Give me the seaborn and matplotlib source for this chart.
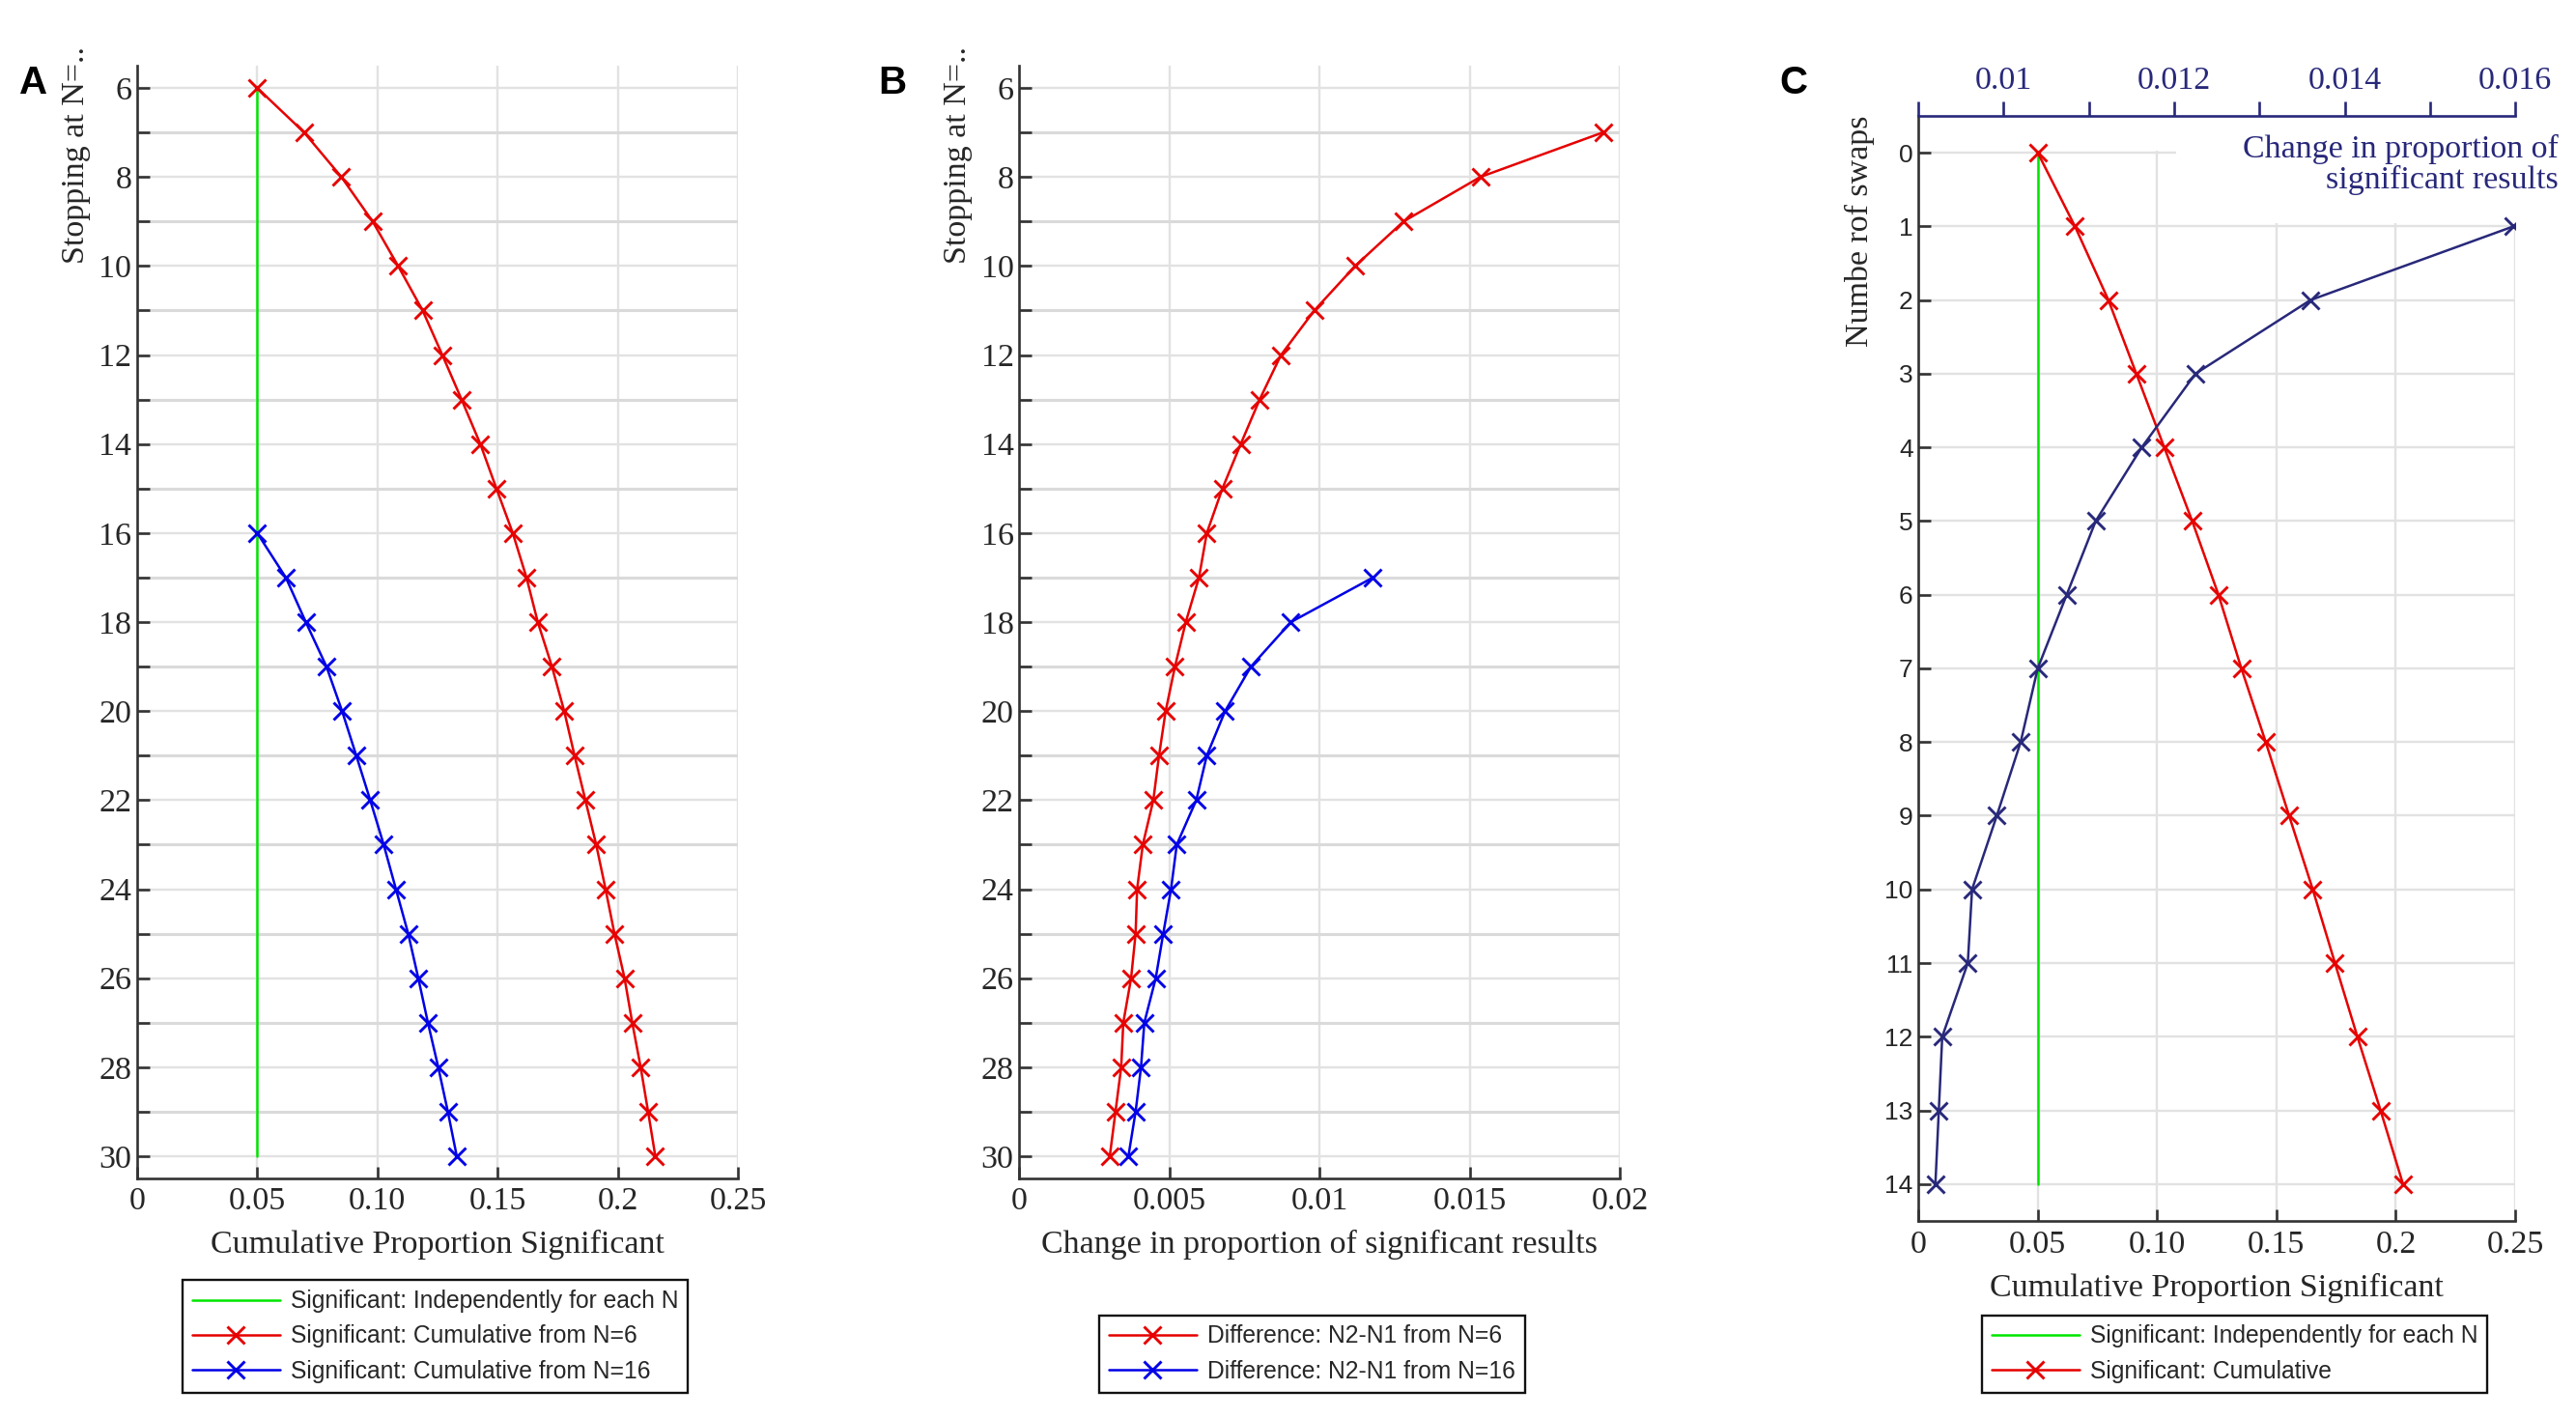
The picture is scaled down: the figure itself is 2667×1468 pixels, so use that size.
import pandas as pd
import seaborn as sns
import matplotlib.pyplot as plt
from matplotlib.ticker import MultipleLocator, FixedLocator
from matplotlib.patches import Rectangle

# ---- data ----
# panel A
stop_n6 = list(range(6, 31))
sig_indep_a = [0.05, 0.05, 0.05, 0.05, 0.05, 0.05, 0.05, 0.05, 0.05, 0.05, 0.05, 0.05, 0.05,
               0.05, 0.05, 0.05, 0.05, 0.05, 0.05, 0.05, 0.05, 0.05, 0.05, 0.05, 0.05]
sig_cum6 = [0.050, 0.0695, 0.085, 0.098, 0.1086, 0.1188, 0.127, 0.135, 0.1428, 0.1495, 0.1563,
            0.162, 0.1667, 0.1726, 0.1777, 0.182, 0.1865, 0.191, 0.1949, 0.1986, 0.2028, 0.206,
            0.2095, 0.2126, 0.2156]
stop_n16 = list(range(16, 31))
sig_cum16 = [0.050, 0.0619, 0.0702, 0.0788, 0.0853, 0.0912, 0.097, 0.1026, 0.1077, 0.1128,
             0.117, 0.121, 0.1253, 0.1293, 0.133]

# panel B
diff_n6 = list(range(7, 31))
diff6 = [0.01944, 0.01536, 0.0128, 0.01119, 0.00983, 0.00872, 0.00801, 0.00738, 0.00677,
         0.00625, 0.00599, 0.00555, 0.00519, 0.00488, 0.00466, 0.00447, 0.00412, 0.00393,
         0.00388, 0.00373, 0.00347, 0.0034, 0.00321, 0.00302]
diff_n16 = list(range(17, 31))
diff16 = [0.01178, 0.00905, 0.00772, 0.00686, 0.00625, 0.0059, 0.00525, 0.00506, 0.0048,
          0.00455, 0.00417, 0.00406, 0.00388, 0.00364]

# panel C
swaps = list(range(0, 15))
sig_indep_c = [0.05, 0.05, 0.05, 0.05, 0.05, 0.05, 0.05, 0.05, 0.05, 0.05, 0.05, 0.05, 0.05,
               0.05, 0.05]
sig_cum_c = [0.05, 0.0656, 0.0796, 0.0913, 0.103, 0.1147, 0.1257, 0.1353, 0.1455, 0.1553,
             0.1652, 0.1745, 0.1839, 0.1936, 0.203]
swaps_diff = list(range(1, 15))
change_c = [0.01598, 0.0136, 0.01225, 0.01162, 0.01108, 0.01074, 0.0104, 0.0102, 0.00992,
            0.00963, 0.00958, 0.00928, 0.00924, 0.0092]

cum_ticks = [0, 0.05, 0.10, 0.15, 0.2, 0.25]
cum_labels = ['0', '0.05', '0.10', '0.15', '0.2', '0.25']
diff_ticks = [0, 0.005, 0.01, 0.015, 0.02]
diff_labels = ['0', '0.005', '0.01', '0.015', '0.02']
top_ticks = [0.010, 0.012, 0.014, 0.016]
top_labels = ['0.01', '0.012', '0.014', '0.016']
top_minor = [0.009, 0.011, 0.013, 0.015]

RED = '#e60000'
BLUE = '#0000e6'
GREEN = '#00e600'
NAVY = '#28287a'
AXC = '#333333'
GRID = '#e2e2e2'
FS = 24.5

sns.set_theme(style="ticks")
plt.rcParams['font.family'] = ['Liberation Serif', 'DejaVu Serif']
plt.rcParams['text.color'] = '#262626'
SANS = ['Liberation Sans', 'DejaVu Sans']

fig = plt.figure(figsize=(26.67, 14.68), dpi=100)
axA = fig.add_axes([0.0532, 0.1689, 0.2333, 0.7848])
axB = fig.add_axes([0.3956, 0.1689, 0.2332, 0.7848])
axC = fig.add_axes([0.7447, 0.1390, 0.2317, 0.7793])


def draw(ax, x, y, color, label, marker=True, z=2):
    kw = dict(marker='x', markersize=13, markeredgewidth=2.1, markeredgecolor=color) if marker else {}
    sns.lineplot(x=x, y=y, color=color, linewidth=1.8, sort=False, estimator=None,
                 orient='y', label=label, legend=False, ax=ax, zorder=z, **kw)
    return ax.lines[-1]


def style(ax, xlim, xt, xl, ylim, ystep):
    ax.set_xlim(*xlim)
    ax.set_ylim(*ylim)
    ax.xaxis.set_major_locator(FixedLocator(xt))
    ax.set_xticklabels(xl)
    ax.yaxis.set_major_locator(MultipleLocator(ystep))
    ax.yaxis.set_minor_locator(MultipleLocator(1))
    ax.set_axisbelow(True)
    ax.grid(True, which='major', axis='y', color=GRID, linewidth=1.7)
    ax.grid(True, which='minor', axis='y', color='#dadada', linewidth=2.2)
    ax.grid(True, which='major', axis='x', color=GRID, linewidth=1.7)
    for s in ['top', 'right']:
        ax.spines[s].set_visible(False)
    for s in ['left', 'bottom']:
        ax.spines[s].set_color(AXC)
        ax.spines[s].set_linewidth(1.9)
    ax.tick_params(axis='both', which='both', direction='in', length=9, width=1.9,
                   color=AXC, labelcolor='#262626', labelsize=FS)
    ax.tick_params(axis='x', pad=6)
    ax.tick_params(axis='y', pad=4)
    ax.set_xlabel(ax.get_xlabel(), fontsize=FS, labelpad=10)


# ---- panel A ----
gA = draw(axA, sig_indep_a, stop_n6, GREEN, 'Significant: Independently for each N', marker=False)
rA = draw(axA, sig_cum6, stop_n6, RED, 'Significant: Cumulative from N=6')
bA = draw(axA, sig_cum16, stop_n16, BLUE, 'Significant: Cumulative from N=16')
axA.set_xlabel('Cumulative Proportion Significant')
style(axA, (0, 0.25), cum_ticks, cum_labels, (30.5, 5.5), 2)
axA.set_ylabel('')
axA.text(-0.101, 1.017, 'Stopping at N=..', rotation=90, ha='center', va='top',
         fontsize=FS, transform=axA.transAxes)

# ---- panel B ----
rB = draw(axB, diff6, diff_n6, RED, 'Difference: N2-N1 from N=6')
bB = draw(axB, diff16, diff_n16, BLUE, 'Difference: N2-N1 from N=16')
axB.set_xlabel('Change in proportion of significant results')
style(axB, (0, 0.02), diff_ticks, diff_labels, (30.5, 5.5), 2)
axB.set_ylabel('')
axB.text(-0.101, 1.017, 'Stopping at N=..', rotation=90, ha='center', va='top',
         fontsize=FS, transform=axB.transAxes)

# ---- panel C ----
gC = draw(axC, sig_indep_c, swaps, GREEN, 'Significant: Independently for each N', marker=False)
rC = draw(axC, sig_cum_c, swaps, RED, 'Significant: Cumulative')
axC.set_xlabel('Cumulative Proportion Significant')
style(axC, (0, 0.25), cum_ticks, cum_labels, (14.5, -0.5), 1)
axC.set_ylabel('')
for lab in axC.get_yticklabels():
    lab.set_family(SANS)
    lab.set_fontsize(19)
axC.tick_params(axis='x', pad=7)
axC.text(-0.0987, 1.0, 'Numbe rof swaps', rotation=90, ha='center', va='top',
         fontsize=FS, transform=axC.transAxes)
# white box behind the top-axis label hides part of the grid
axC.add_patch(Rectangle((0, -0.5), 0.25, 0.47, facecolor='white', edgecolor='none', zorder=1.5))
axC.add_patch(Rectangle((0.108, -0.5), 0.142, 1.45, facecolor='white', edgecolor='none', zorder=1.5))

axT = axC.twiny()
nC = draw(axT, change_c, swaps_diff, NAVY, None)
axT.set_xlim(0.009, 0.016)
axT.set_ylim(14.5, -0.5)
axT.xaxis.set_major_locator(FixedLocator(top_ticks))
axT.xaxis.set_minor_locator(FixedLocator(top_minor))
axT.set_xticklabels(top_labels)
axT.set_xlabel('')
axT.set_ylabel('')
for s in ['left', 'right', 'bottom']:
    axT.spines[s].set_visible(False)
axT.spines['top'].set_color(NAVY)
axT.spines['top'].set_linewidth(1.9)
axT.tick_params(axis='x', which='both', direction='out', length=11, width=1.9,
                color=NAVY, labelcolor=NAVY, labelsize=FS, pad=4)
axT.text(1.073, 0.983, 'Change in proportion of\nsignificant results', ha='right', va='top',
         multialignment='right', fontsize=FS, color=NAVY, linespacing=1.0,
         transform=axT.transAxes)

# ---- legends ----
def legend(ax, handles, labels, xc):
    lg = ax.legend(handles, labels, loc='lower center', bbox_to_anchor=(xc, 0.018),
                   bbox_transform=fig.transFigure, prop={'family': SANS, 'size': 17.7},
                   frameon=True, fancybox=False, edgecolor='#111111', framealpha=1,
                   handlelength=3.7, handletextpad=0.45, labelspacing=0.5,
                   borderpad=0.4, borderaxespad=0)
    lg.get_frame().set_linewidth(1.7)
    return lg


legend(axA, [gA, rA, bA], ['Significant: Independently for each N',
                           'Significant: Cumulative from N=6',
                           'Significant: Cumulative from N=16'], 0.1689)
legend(axB, [rB, bB], ['Difference: N2-N1 from N=6', 'Difference: N2-N1 from N=16'], 0.5093)
legend(axT, [gC, rC], ['Significant: Independently for each N', 'Significant: Cumulative'], 0.8675)

# ---- panel letters ----
for xl, letter in [(0.0075, 'A'), (0.3408, 'B'), (0.6907, 'C')]:
    fig.text(xl, 0.9544, letter, fontsize=29, fontweight='bold', family=SANS,
             ha='left', va='top', color='black')

fig.savefig('out.png', dpi=100)
